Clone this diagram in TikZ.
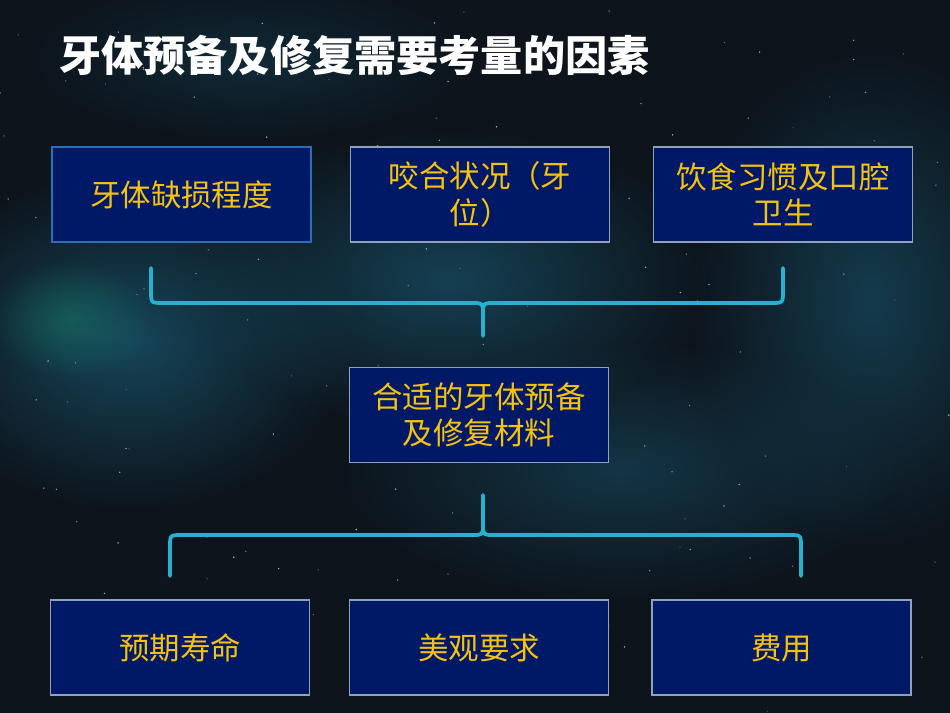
\documentclass[tikz,border=0pt]{standalone}
\usepackage{fontspec}
\usepackage{tikz}
\usetikzlibrary{positioning}
\usetikzlibrary{fadings}
\newfontfamily\cjk{Noto Sans CJK SC}
\definecolor{mspace}{rgb}{0.05, 0.08, 0.11}
\definecolor{mnebula}{rgb}{0.09, 0.30, 0.38}
\definecolor{mgreen}{rgb}{0.10, 0.45, 0.40}
\definecolor{mnavy}{rgb}{0, 0.10, 0.40}
\definecolor{medge}{rgb}{0.56, 0.63, 0.74}
\definecolor{mblueedge}{rgb}{0.16, 0.44, 0.72}
\definecolor{mgold}{rgb}{0.96, 0.76, 0.06}
\definecolor{mcyan}{rgb}{0.16, 0.69, 0.82}
\tikzfading[name=softglow, inner color=transparent!0, outer color=transparent!100]
\tikzset{factor/.style = {draw=medge, line width=1.3pt, fill=mnavy,
                          minimum width=7.77cm, minimum height=2.85cm,
                          inner sep=0pt, align=center, text=mgold,
                          font=\cjk\fontsize{26}{31}\selectfont},
         brace/.style = {draw=mcyan, line width=3.2pt, line cap=round, line join=round},
         glow/.style = {fill=mnebula, path fading=softglow}}

\begin{document}
\begin{tikzpicture}[x=0.03cm, y=-0.03cm]
    \useasboundingbox (0, 0) rectangle (950, 713);
    \fill [mspace] (0, 0) rectangle (950, 713);

    % nebula
    \fill [glow, opacity=0.9] (130, 340) ellipse (220 and 170);
    \fill [glow, fill=mgreen, opacity=0.6] (70, 320) ellipse (80 and 60);
    \fill [glow, opacity=0.8] (450, 280) ellipse (260 and 150);
    \fill [glow, opacity=0.7] (870, 300) ellipse (180 and 250);
    \fill [glow, opacity=0.6] (620, 470) ellipse (280 and 130);
    \fill [glow, opacity=0.4] (250, 60) ellipse (220 and 80);

    % stars
    \pgfmathsetseed{7}
    \foreach \i in {1, ..., 140} {
      \pgfmathsetmacro\sx{950 * rnd};
      \pgfmathsetmacro\sy{713 * rnd};
      \pgfmathsetmacro\so{20 + 50 * rnd};
      \fill [white, opacity=\so/100] (\sx, \sy) circle (0.8);
    }

    \node [anchor=west, text=white, font=\cjk\bfseries\fontsize{36}{40}\selectfont] (title) at (55, 55) {牙体预备及修复需要考量的因素};

    \node [factor, draw=mblueedge] (defect) at (181.5, 194.5) {牙体缺损程度};
    \node [factor] (bite) at (480, 194.5) {咬合状况（牙\\位）};
    \node [factor] (diet) at (783, 194.5) {饮食习惯及口腔\\卫生};

    \node [factor] (prep) at (479, 415) {合适的牙体预备\\及修复材料};

    \node [factor] (life) at (180, 647.5) {预期寿命};
    \node [factor] (look) at (479, 647.5) {美观要求};
    \node [factor] (cost) at (781.5, 647.5) {费用};

    \coordinate (top tip) at (483, 336);
    \coordinate (low tip) at (483, 495);

    \draw [brace] (151, 268) -- (151, 291) .. controls (151, 303) .. (163, 303) -- (472, 303)
                  .. controls (483, 303) .. (483, 314) -- (top tip);
    \draw [brace] (783, 268) -- (783, 291) .. controls (783, 303) .. (771, 303) -- (494, 303)
                  .. controls (483, 303) .. (483, 314);

    \draw [brace] (170, 576) -- (170, 547) .. controls (170, 535) .. (182, 535) -- (472, 535)
                  .. controls (483, 535) .. (483, 524) -- (low tip);
    \draw [brace] (801, 576) -- (801, 547) .. controls (801, 535) .. (789, 535) -- (494, 535)
                  .. controls (483, 535) .. (483, 524);

  \end{tikzpicture}
\end{document}
